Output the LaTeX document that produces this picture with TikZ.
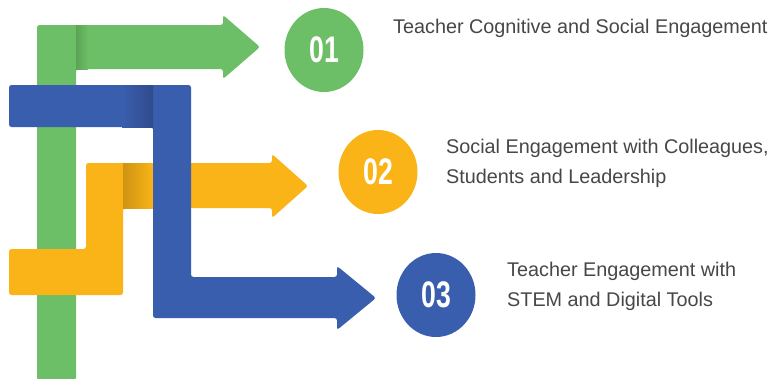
\documentclass[tikz,border=0pt]{standalone}
\usepackage{fontspec}
\setmainfont{Liberation Sans}
\newfontfamily\numfont[FakeStretch=0.72]{Liberation Sans}
\usetikzlibrary{shapes.geometric}
\definecolor{grn}{HTML}{6CBF66}
\definecolor{ylw}{HTML}{FBB417}
\definecolor{blu}{HTML}{3A5EAE}
\definecolor{txt}{HTML}{474747}
\begin{document}
\begin{tikzpicture}[x=1pt, y=-1pt, band/.style={rounded corners=2.5pt}, num/.style={ellipse, minimum width=79pt, minimum height=84pt, inner sep=0pt, text=white, font=\numfont\bfseries\fontsize{37}{37}\selectfont}, desc/.style={anchor=base west, inner sep=0pt, align=left, text=txt, font=\fontsize{19.8}{29.5}\selectfont}]
	\fill[white] (0,0) rectangle (776,378);
	\useasboundingbox (0,0) rectangle (776,378);
	\fill[grn, band] (37,380) -- (37,25) -- (223,25) -- (223,15) -- (260,47) -- (223,79) -- (223,69) -- (76,69) -- (76,380) -- cycle;
	\shade[left color=grn!85!black, right color=grn] (76,25) rectangle (88,69);
	\fill[ylw, band] (9,249) -- (86,249) -- (86,163) -- (272,163) -- (272,154) -- (308,186) -- (272,218) -- (272,208) -- (123,208) -- (123,295) -- (9,295) -- cycle;
	\shade[left color=ylw!82!black, right color=ylw] (123,163) rectangle (153,208);
	\fill[blu, band] (9,85) -- (191,85) -- (191,277) -- (337,277) -- (337,266) -- (376,298) -- (337,330) -- (337,318) -- (153,318) -- (153,127) -- (9,127) -- cycle;
	\shade[left color=blu, middle color=blu!88!white, right color=blu!80!black] (122,85) rectangle (153,127);
	\node[num, fill=grn] (n1) at (324,50) {01};
	\node[num, fill=ylw] (n2) at (378,172) {02};
	\node[num, fill=blu] (n3) at (436,295) {03};
	\node[desc] (t1) at (393,33) {Teacher Cognitive and Social Engagement};
	\node[desc] (t2) at (446,183) {Social Engagement with Colleagues,\\Students and Leadership};
	\node[desc] (t3) at (507,306) {Teacher Engagement with\\STEM and Digital Tools};
\end{tikzpicture}
\end{document}
